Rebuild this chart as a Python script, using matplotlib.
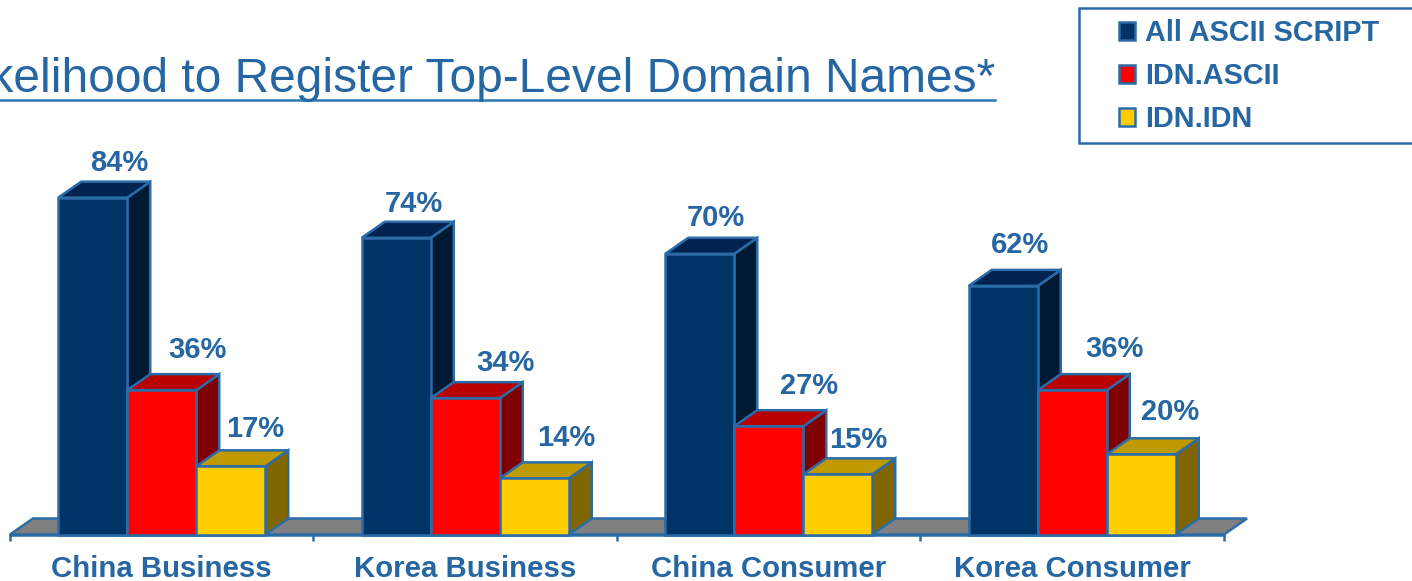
import matplotlib
matplotlib.use("Agg")
import matplotlib.pyplot as plt
from matplotlib.patches import Polygon, Rectangle

plt.rcParams['font.family'] = ['Liberation Sans', 'DejaVu Sans']

categories = ["China Business", "Korea Business", "China Consumer", "Korea Consumer"]
all_ascii = [84, 74, 70, 62]
idn_ascii = [36, 34, 27, 36]
idn_idn = [17, 14, 15, 20]
series_names = ["All ASCII SCRIPT", "IDN.ASCII", "IDN.IDN"]
title = "Likelihood to Register Top-Level Domain Names*"

W, H = 1412, 581
X0, XSTEP = 10.0, 303.5      # pixel of category edge 0, pixels per category
Y0, YSCALE = 534.5, 4.01     # pixel of 0%, pixels per percent
DX, DY = 23 / XSTEP, 16 / YSCALE
BAR_W = 69 / XSTEP
EDGE = '#2b6ca8'
TXT = '#2566a3'
FRONT = ['#003366', '#ff0000', '#ffcc00']
TOP = ['#002350', '#b80000', '#bf9900']
SIDE = ['#001a33', '#7f0000', '#7f6600']
# label offsets from bar front-top centre, pixels
LABEL_OFF = [
    [(26.5, 35), (17.5, 33.5), (16.5, 35.5), (17, 41)],
    [(35.5, 40.5), (40.5, 35.5), (40.5, 40.5), (42, 41)],
    [(24.5, 37.5), (32, 40.5), (20.5, 34.5), (29, 42.5)],
]

fig = plt.figure(figsize=(W / 100, H / 100), dpi=100, facecolor='white')
ax = fig.add_axes([0, 0, 1, 1])
ax.set_xlim(-X0 / XSTEP, (W - X0) / XSTEP)
ax.set_ylim(-(H - Y0) / YSCALE, Y0 / YSCALE)
ax.patch.set_alpha(0)

LW = 1.8

# floor
n = len(categories)
ax.add_patch(Polygon([(0, 0), (n, 0), (n + DX, DY), (DX, DY)], closed=True,
                     facecolor='#808080', edgecolor=EDGE, lw=LW, zorder=1))

# axis
for s in ['top', 'left', 'right']:
    ax.spines[s].set_visible(False)
ax.spines['bottom'].set_position(('data', 0))
ax.spines['bottom'].set_bounds(0, n)
ax.spines['bottom'].set_color(EDGE)
ax.spines['bottom'].set_linewidth(LW)
ax.spines['bottom'].set_zorder(2)
ax.set_yticks([])
ax.set_xticks(range(n + 1))
ax.set_xticklabels([])
ax.tick_params(axis='x', which='major', direction='out', length=4.5, width=LW, color=EDGE)
ax.set_xticks([i + 0.5 for i in range(n)], minor=True)
ax.set_xticklabels(categories, minor=True, fontsize=21.2, fontweight='bold', color=TXT)
ax.tick_params(axis='x', which='minor', length=0, pad=15)

handles = []
all_series = [all_ascii, idn_ascii, idn_idn]
for c in range(n):
    z = 3 + c * 10
    for s, vals in enumerate(all_series):
        v = vals[c]
        x = c + 0.5 + (s - 1) * BAR_W
        l, r = x - BAR_W / 2, x + BAR_W / 2
        ax.add_patch(Polygon([(r, 0), (r + DX, DY), (r + DX, v + DY), (r, v)], closed=True,
                             facecolor=SIDE[s], edgecolor=EDGE, lw=LW, zorder=z + s))
        ax.add_patch(Polygon([(l, v), (l + DX, v + DY), (r + DX, v + DY), (r, v)], closed=True,
                             facecolor=TOP[s], edgecolor=EDGE, lw=LW, zorder=z + s))
        bar = ax.bar(x, v, width=BAR_W, color=FRONT[s], edgecolor=EDGE, lw=LW,
                     zorder=z + s + 0.5, label=series_names[s] if c == 0 else None)
        if c == 0:
            handles.append(bar)
        ox, oy = LABEL_OFF[s][c]
        ax.annotate(f"{v}%", xy=(x, v), xytext=(ox * 0.72, oy * 0.72),
                    textcoords='offset points', ha='center', va='center',
                    fontsize=21, fontweight='bold', color=TXT, zorder=100)

# title
fig.text(995 / W, 1 - 92 / H, title, ha='right', va='baseline', fontsize=34.5, color=TXT)
fig.add_artist(plt.Line2D([0, 995 / W], [1 - 100 / H] * 2, color='#2a7ab5', lw=1.8))

# legend
fig.add_artist(Rectangle((1079 / W, 1 - 143 / H), 400 / W, 135 / H, transform=fig.transFigure,
                         facecolor='white', edgecolor=EDGE, lw=1.8, clip_on=True))
leg = fig.legend(handles=handles, labels=series_names, loc='upper left',
                 bbox_to_anchor=(1118.5 / W, 1 - 19 / H), bbox_transform=fig.transFigure,
                 frameon=False, borderpad=0, borderaxespad=0,
                 handlelength=0.56, handleheight=0.56, handletextpad=0.35, labelspacing=0.52,
                 prop={'size': 20.8, 'weight': 'bold'}, labelcolor=TXT)

fig.savefig('out.png', dpi=100)
